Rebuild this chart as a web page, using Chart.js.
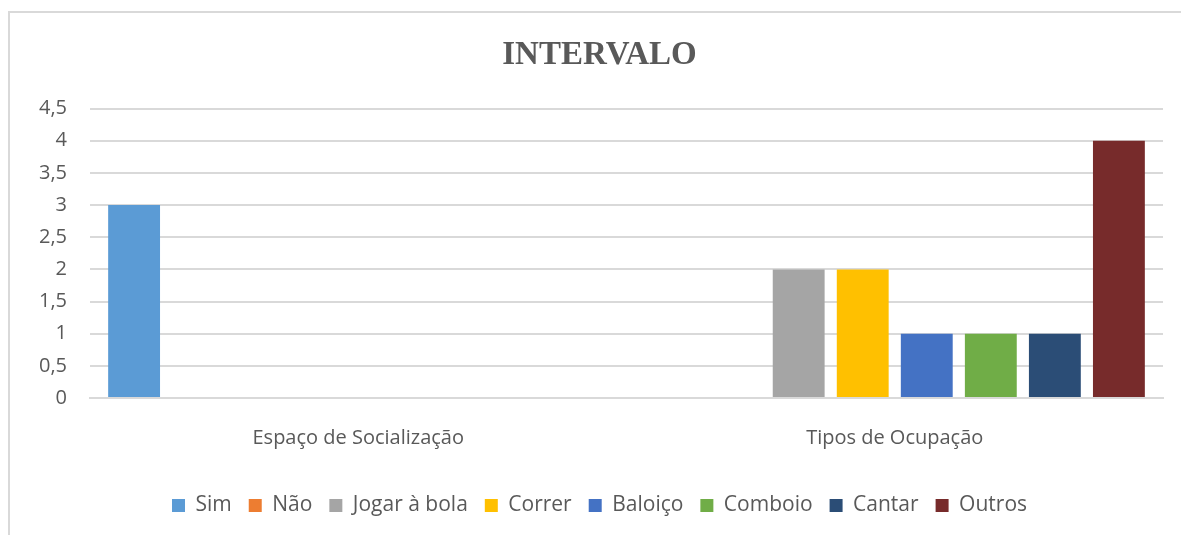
<!DOCTYPE html>
<html>
<head>
<meta charset="utf-8">
<script src="https://cdn.jsdelivr.net/npm/chart.js@4"></script>
<style>
  body { margin: 0; background: #fff; overflow: hidden; }
  #frame { position: absolute; left: 8px; top: 11px; width: 1200px; height: 600px; border: 2px solid #d9d9d9; box-sizing: border-box; }
  #wrap { position: absolute; left: 0; top: 0; width: 1181px; height: 535px; }
</style>
</head>
<body>
<div id="frame"></div>
<div id="wrap"><canvas id="chart"></canvas></div>
<script>
const categories = ['Espaço de Socialização', 'Tipos de Ocupação'];
const seriesNames = ['Sim', 'Não', 'Jogar à bola', 'Correr', 'Baloiço', 'Comboio', 'Cantar', 'Outros'];
const sim = [3, null];
const nao = [null, null];
const jogar = [null, 2];
const correr = [null, 2];
const baloico = [null, 1];
const comboio = [null, 1];
const cantar = [null, 1];
const outros = [null, 4];
const seriesColors = ['#5B9BD5', '#ED7D31', '#A5A5A5', '#FFC000', '#4472C4', '#70AD47', '#2B4D76', '#772B2B'];
const allSeries = [sim, nao, jogar, correr, baloico, comboio, cantar, outros];

const grey = '#595959';
const font = "'Open Sans', sans-serif";

new Chart(document.getElementById('chart').getContext('2d'), {
  type: 'bar',
  data: {
    labels: categories,
    datasets: allSeries.map((d, i) => ({
      label: seriesNames[i],
      data: d,
      backgroundColor: seriesColors[i],
      borderWidth: 0,
      categoryPercentage: 0.955,
      barPercentage: 0.81
    }))
  },
  options: {
    responsive: true,
    maintainAspectRatio: false,
    animation: false,
    layout: { padding: { left: 36, right: 18, top: 0, bottom: 9 } },
    plugins: {
      title: {
        display: true,
        text: 'INTERVALO',
        color: grey,
        font: { family: "'Liberation Serif', 'DejaVu Serif', serif", size: 33, weight: 'bold' },
        padding: { top: 36, bottom: 33 }
      },
      legend: {
        position: 'bottom',
        labels: {
          color: grey,
          font: { family: font, size: 21 },
          boxWidth: 13,
          boxHeight: 13,
          padding: 17
        }
      },
      tooltip: { enabled: false }
    },
    scales: {
      x: {
        grid: { display: false, drawTicks: false },
        border: { display: true, color: '#d9d9d9', width: 2 },
        ticks: { color: grey, font: { family: font, size: 20 }, padding: 28 }
      },
      y: {
        min: 0,
        max: 4.5,
        grid: { color: '#d9d9d9', lineWidth: 2, drawTicks: false },
        border: { display: false },
        afterFit: s => { s.width = 54; },
        ticks: {
          stepSize: 0.5,
          color: grey,
          font: { family: font, size: 20 },
          padding: 23,
          callback: v => String(v).replace('.', ',')
        }
      }
    }
  }
});
</script>
</body>
</html>
